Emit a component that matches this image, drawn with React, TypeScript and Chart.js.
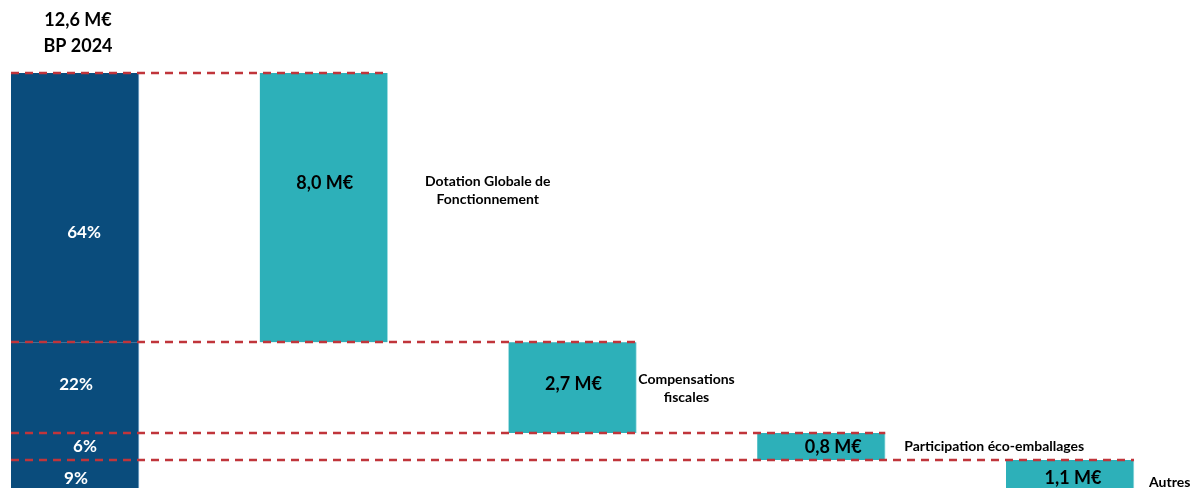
import React, { useEffect, useRef } from 'react';
import { Chart, registerables } from 'chart.js';

Chart.register(...registerables);

// ---- data ----
const categories = [
  'BP 2024',
  'Dotation Globale de Fonctionnement',
  'Compensations fiscales',
  'Participation éco-emballages',
  'Autres',
];
const amounts = [8.0, 2.7, 0.8, 1.1];
const amountLabels = ['8,0 M€', '2,7 M€', '0,8 M€', '1,1 M€'];
const shareLabels = ['64%', '22%', '6%', '9%'];
const totalValue = 12.6;
const totalLabel = '12,6 M€';
const baseLabel = 'BP 2024';
const nameLines = [
  ['Dotation Globale de', 'Fonctionnement'],
  ['Compensations', 'fiscales'],
  ['Participation éco-emballages'],
  ['Autres'],
];

// ---- styles ----
const BLUE = '#0a4c7c';
const TEAL = '#2db0b9';
const RED = '#c0353b';
const FONT = 'Lato, "Open Sans", sans-serif';

export default function App() {
  const ref = useRef<HTMLCanvasElement | null>(null);

  useEffect(() => {
    if (!ref.current) return;

    // floating ranges (top-down waterfall)
    let top = totalValue;
    const ranges = amounts.map((a) => {
      const hi = Math.round(top * 100) / 100;
      const lo = Math.round((top - a) * 100) / 100;
      top = lo;
      return [Math.max(lo, 0), hi];
    });

    const datasets = ranges.map((r, i) => ({
      label: categories[i + 1],
      data: categories.map((_, c) => (c === 0 || c === i + 1 ? r : null)) as any,
      backgroundColor: (ctx: any) => (ctx.dataIndex === 0 ? BLUE : TEAL),
      borderColor: (ctx: any) => (ctx.dataIndex === 0 ? '#8fb6d4' : '#a6e0e4'),
      borderWidth: { top: 0, left: 0, bottom: 0, right: 1 },
      borderSkipped: false,
      barThickness: 128,
      clip: false as any,
    }));

    // label placement tweaks (style only)
    const shareOff = [
      { dx: 9, dy: 25 },
      { dx: 1, dy: -3 },
      { dx: 10, dy: 0 },
      { dx: 1, dy: 0 },
    ];
    const amountOff = [
      { dx: 1, dy: -24 },
      { dx: 1, dy: -3 },
      { dx: 12, dy: 1 },
      { dx: 3, dy: 0 },
    ];
    const nameLayout = [
      { dx: 100, dy: -17, align: 'center' },
      { dx: 50, dy: 1, align: 'center' },
      { dx: 19, dy: 0, align: 'left' },
      { dx: 15, dy: 0, align: 'left' },
    ];

    const labelPlugin = {
      id: 'waterfallLabels',
      afterDatasetsDraw(chart: any) {
        const c = chart.ctx;
        const yScale = chart.scales.y;
        c.save();
        // title above first bar
        const m0 = chart.getDatasetMeta(0);
        const first = m0.data[0].getProps(['x', 'y', 'width'], true);
        c.fillStyle = '#000';
        c.font = `bold 18px ${FONT}`;
        c.textAlign = 'center';
        c.textBaseline = 'middle';
        c.fillText(totalLabel, first.x + 3, chart.chartArea.top - 53);
        c.fillText(baseLabel, first.x + 3, chart.chartArea.top - 27);

        ranges.forEach((r, i) => {
          const meta = chart.getDatasetMeta(i);
          const b0 = meta.data[0].getProps(['x', 'y', 'base', 'width'], true);
          const bt = meta.data[i + 1].getProps(['x', 'y', 'base', 'width'], true);
          const last = i === ranges.length - 1;
          // share label in first bar
          c.fillStyle = '#fff';
          c.font = `bold 17px ${FONT}`;
          c.textAlign = 'center';
          c.textBaseline = 'middle';
          const sy = last ? b0.y + 19 : (b0.y + b0.base) / 2;
          c.fillText(shareLabels[i], b0.x + shareOff[i].dx, sy + shareOff[i].dy);
          // amount label in teal bar
          c.fillStyle = '#000';
          c.font = `bold 18px ${FONT}`;
          const ty = last ? bt.y + 18 : (bt.y + bt.base) / 2;
          c.fillText(amountLabels[i], bt.x + amountOff[i].dx, ty + amountOff[i].dy);
          // category name
          const L = nameLayout[i];
          c.font = `bold 14px ${FONT}`;
          c.textAlign = L.align;
          const right = bt.x + bt.width / 2;
          const lines = nameLines[i];
          const cy = (last ? bt.y + 23 : (bt.y + bt.base) / 2) + L.dy;
          lines.forEach((ln, k) => {
            c.fillText(ln, right + L.dx, cy + (k - (lines.length - 1) / 2) * 18);
          });
          // dashed line at top of component
          const py = Math.round(yScale.getPixelForValue(r[1]));
          c.strokeStyle = RED;
          c.lineWidth = 2.5;
          c.setLineDash([8, 6]);
          c.beginPath();
          c.moveTo(b0.x - b0.width / 2, py);
          c.lineTo(right, py);
          c.stroke();
          c.setLineDash([]);
        });
        c.restore();
      },
    };

    const chart = new Chart(ref.current, {
      type: 'bar',
      data: { labels: categories, datasets },
      options: {
        responsive: false,
        animation: false,
        layout: { padding: { left: 75, right: 122, top: 73, bottom: 3 } },
        scales: {
          x: { type: 'category', offset: false, stacked: true, display: false },
          y: { min: 0, max: totalValue, stacked: false, display: false },
        },
        plugins: { legend: { display: false }, tooltip: { enabled: false } },
      },
      plugins: [labelPlugin],
    });
    return () => chart.destroy();
  }, []);

  return (
    <div
      style={{
        position: 'fixed',
        left: 0,
        top: 0,
        width: 1192,
        height: 488,
        overflow: 'hidden',
        background: '#fff',
      }}
    >
      <canvas ref={ref} width={1192} height={500} style={{ width: 1192, height: 500, display: 'block' }} />
    </div>
  );
}
